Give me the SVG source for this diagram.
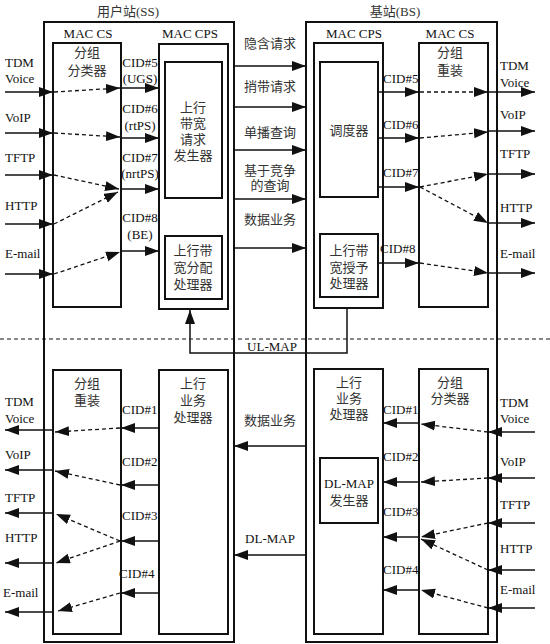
<svg xmlns="http://www.w3.org/2000/svg" width="550" height="644" viewBox="0 0 550 644">
<style>
text{font-family:"Liberation Serif","Noto Sans CJK SC",serif;font-size:13px;fill:#111}
.c{text-anchor:middle}
.cj{fill:#333}
.box{fill:none;stroke:#111;stroke-width:2}
.ln{fill:none;stroke:#111;stroke-width:1.5}
.ar{fill:none;stroke:#111;stroke-width:1.5;marker-end:url(#ah)}
.da{fill:none;stroke:#111;stroke-width:1.3;stroke-dasharray:4,3;marker-end:url(#ah)}
</style>
<defs>
<marker id="ah" markerUnits="userSpaceOnUse" markerWidth="15" markerHeight="11" refX="14" refY="5" orient="auto">
<path d="M0,0 L14,5 L0,10 z" fill="#111"/>
</marker>
</defs>
<rect width="550" height="644" fill="#fff"/>

<g id="ss">
<text class="c cj" x="128" y="16">用户站(SS)</text>
<rect class="box" x="44" y="22" width="190" height="620"/>
<text class="c" x="88" y="38">MAC CS</text>
<text class="c" x="190" y="38">MAC CPS</text>
</g>
<g id="bs">
<text class="c cj" x="395" y="16">基站(BS)</text>
<rect class="box" x="306" y="22" width="191" height="620"/>
<text class="c" x="354" y="38">MAC CPS</text>
<text class="c" x="450" y="38">MAC CS</text>
</g>

<g id="ss-classifier">
<rect class="box" x="53" y="43" width="68" height="264"/>
<text class="c cj" x="87" y="57">分组</text>
<text class="c cj" x="87" y="75">分类器</text>
</g>
<g id="ss-maccps">
<rect class="box" x="159" y="44" width="69" height="265"/>
</g>
<g id="ss-bwreq">
<rect class="box" x="165" y="62" width="57" height="136"/>
<text class="c cj" x="193" y="112">上行</text>
<text class="c cj" x="193" y="128">带宽</text>
<text class="c cj" x="193" y="144">请求</text>
<text class="c cj" x="193" y="160">发生器</text>
</g>
<g id="ss-bwalloc">
<rect class="box" x="165" y="236" width="57" height="63"/>
<text class="c cj" x="193" y="255">上行带</text>
<text class="c cj" x="193" y="272">宽分配</text>
<text class="c cj" x="193" y="289">处理器</text>
</g>

<g id="bs-maccps">
<rect class="box" x="314" y="43" width="69" height="265"/>
</g>
<g id="bs-scheduler">
<rect class="box" x="320" y="62" width="58" height="135"/>
<text class="c cj" x="349" y="135">调度器</text>
</g>
<g id="bs-bwgrant">
<rect class="box" x="320" y="234" width="58" height="63"/>
<text class="c cj" x="349" y="255">上行带</text>
<text class="c cj" x="349" y="272">宽授予</text>
<text class="c cj" x="349" y="288">处理器</text>
</g>
<g id="bs-reassembly">
<rect class="box" x="419" y="43" width="69" height="264"/>
<text class="c cj" x="450" y="57">分组</text>
<text class="c cj" x="450" y="75">重装</text>
</g>

<g id="ss-reassembly">
<rect class="box" x="53" y="370" width="68" height="264"/>
<text class="c cj" x="87" y="388">分组</text>
<text class="c cj" x="87" y="405">重装</text>
</g>
<g id="ss-ulproc">
<rect class="box" x="159" y="370" width="69" height="264"/>
<text class="c cj" x="193" y="388">上行</text>
<text class="c cj" x="193" y="405">业务</text>
<text class="c cj" x="193" y="422">处理器</text>
</g>
<g id="bs-ulproc">
<rect class="box" x="314" y="369" width="69" height="265"/>
<text class="c cj" x="349" y="387">上行</text>
<text class="c cj" x="349" y="403">业务</text>
<text class="c cj" x="349" y="419">处理器</text>
</g>
<g id="bs-dlmap">
<rect class="box" x="320" y="458" width="58" height="65"/>
<text class="c" x="349" y="488">DL-MAP</text>
<text class="c cj" x="349" y="505">发生器</text>
</g>
<g id="bs-classifier">
<rect class="box" x="419" y="369" width="69" height="265"/>
<text class="c cj" x="450" y="387">分组</text>
<text class="c cj" x="450" y="403">分类器</text>
</g>

<g id="labels">
<text x="5" y="67">TDM</text><text x="5" y="83">Voice</text>
<text x="5" y="122">VoIP</text>
<text x="5" y="162">TFTP</text>
<text x="5" y="210">HTTP</text>
<text x="5" y="258">E-mail</text>
<text class="c" x="140" y="67">CID#5</text><text class="c" x="140" y="83">(UGS)</text>
<text class="c" x="140" y="113">CID#6</text><text class="c" x="140" y="130">(rtPS)</text>
<text class="c" x="140" y="162">CID#7</text><text class="c" x="140" y="178">(nrtPS)</text>
<text class="c" x="140" y="222">CID#8</text><text class="c" x="140" y="239">(BE)</text>
<text class="c cj" x="270" y="48">隐含请求</text>
<text class="c cj" x="270" y="91">捎带请求</text>
<text class="c cj" x="270" y="137">单播查询</text>
<text class="c cj" x="270" y="175">基于竞争</text>
<text class="c cj" x="270" y="190">的查询</text>
<text class="c cj" x="270" y="224">数据业务</text>
<text class="c" x="272" y="351">UL-MAP</text>
<text x="383" y="83">CID#5</text>
<text x="383" y="129">CID#6</text>
<text x="383" y="177">CID#7</text>
<text x="380" y="253">CID#8</text>
<text x="500" y="70">TDM</text><text x="500" y="87">Voice</text>
<text x="500" y="119">VoIP</text>
<text x="500" y="158">TFTP</text>
<text x="500" y="212">HTTP</text>
<text x="500" y="258">E-mail</text>
<text x="5" y="406">TDM</text><text x="5" y="423">Voice</text>
<text x="5" y="459">VoIP</text>
<text x="5" y="502">TFTP</text>
<text x="5" y="542">HTTP</text>
<text x="3" y="597">E-mail</text>
<text x="122" y="414">CID#1</text>
<text x="122" y="466">CID#2</text>
<text x="122" y="520">CID#3</text>
<text x="119" y="578">CID#4</text>
<text class="c cj" x="270" y="425">数据业务</text>
<text class="c" x="270" y="543">DL-MAP</text>
<text x="383" y="414">CID#1</text>
<text x="383" y="461">CID#2</text>
<text x="383" y="516">CID#3</text>
<text x="383" y="574">CID#4</text>
<text x="500" y="407">TDM</text><text x="500" y="423">Voice</text>
<text x="500" y="466">VoIP</text>
<text x="500" y="509">TFTP</text>
<text x="500" y="553">HTTP</text>
<text x="500" y="594">E-mail</text>
</g>

<g id="connectors">
<line x1="0" y1="339" x2="550" y2="339" stroke="#111" stroke-width="1" stroke-dasharray="4,3"/>
<line class="ar" x1="5" y1="92" x2="53" y2="92"/>
<line class="ar" x1="5" y1="133" x2="53" y2="133"/>
<line class="ar" x1="5" y1="175" x2="53" y2="175"/>
<line class="ar" x1="5" y1="224" x2="53" y2="224"/>
<line class="ar" x1="5" y1="274" x2="53" y2="274"/>
<line class="da" x1="54" y1="92" x2="120" y2="88"/>
<line class="da" x1="54" y1="133" x2="120" y2="137"/>
<line class="da" x1="54" y1="175" x2="119" y2="189"/>
<line class="da" x1="54" y1="224" x2="118" y2="192"/>
<line class="da" x1="54" y1="274" x2="120" y2="252"/>
<line class="ar" x1="121" y1="88" x2="159" y2="88"/>
<line class="ar" x1="121" y1="138" x2="159" y2="138"/>
<line class="ar" x1="121" y1="189" x2="159" y2="189"/>
<line class="ar" x1="121" y1="251" x2="159" y2="251"/>
<line class="ar" x1="234" y1="66" x2="306" y2="66"/>
<line class="ar" x1="234" y1="107" x2="306" y2="107"/>
<line class="ar" x1="234" y1="150" x2="306" y2="150"/>
<line class="ar" x1="234" y1="199" x2="306" y2="199"/>
<line class="ar" x1="234" y1="248" x2="306" y2="248"/>
<line class="ar" x1="378" y1="92" x2="419" y2="92"/>
<line class="ar" x1="378" y1="138" x2="419" y2="138"/>
<line class="ar" x1="378" y1="187" x2="419" y2="187"/>
<line class="ar" x1="378" y1="263" x2="419" y2="263"/>
<line class="da" x1="420" y1="92" x2="488" y2="92"/>
<line class="da" x1="420" y1="138" x2="488" y2="132"/>
<line class="da" x1="420" y1="187" x2="488" y2="174"/>
<line class="da" x1="420" y1="187" x2="488" y2="223"/>
<line class="da" x1="420" y1="263" x2="488" y2="273"/>
<line class="ar" x1="488" y1="92" x2="535" y2="92"/>
<line class="ar" x1="488" y1="131" x2="535" y2="131"/>
<line class="ar" x1="488" y1="174" x2="535" y2="174"/>
<line class="ar" x1="488" y1="223" x2="535" y2="223"/>
<line class="ar" x1="488" y1="273" x2="535" y2="273"/>
<path class="ar" d="M347,308 V353 H190 V310"/>
<line class="ar" x1="159" y1="428" x2="121" y2="428"/>
<line class="ar" x1="159" y1="485" x2="121" y2="485"/>
<line class="ar" x1="159" y1="541" x2="121" y2="541"/>
<line class="ar" x1="159" y1="593" x2="121" y2="593"/>
<line class="da" x1="120" y1="428" x2="55" y2="432"/>
<line class="da" x1="120" y1="485" x2="55" y2="471"/>
<line class="da" x1="120" y1="541" x2="56" y2="514"/>
<line class="da" x1="120" y1="541" x2="56" y2="563"/>
<line class="da" x1="120" y1="593" x2="58" y2="611"/>
<line class="ar" x1="53" y1="430" x2="5" y2="430"/>
<line class="ar" x1="53" y1="470" x2="5" y2="470"/>
<line class="ar" x1="53" y1="513" x2="5" y2="513"/>
<line class="ar" x1="53" y1="563" x2="5" y2="563"/>
<line class="ar" x1="53" y1="612" x2="5" y2="612"/>
<line class="ar" x1="306" y1="446" x2="234" y2="446"/>
<line class="ar" x1="306" y1="555" x2="234" y2="555"/>
<line class="ar" x1="535" y1="432" x2="488" y2="432"/>
<line class="ar" x1="535" y1="478" x2="488" y2="478"/>
<line class="ar" x1="535" y1="523" x2="488" y2="523"/>
<line class="ar" x1="535" y1="570" x2="488" y2="570"/>
<line class="ar" x1="535" y1="608" x2="488" y2="608"/>
<line class="da" x1="488" y1="432" x2="421" y2="424"/>
<line class="da" x1="488" y1="478" x2="421" y2="482"/>
<line class="da" x1="488" y1="523" x2="421" y2="537"/>
<line class="da" x1="488" y1="570" x2="421" y2="539"/>
<line class="da" x1="488" y1="608" x2="421" y2="590"/>
<line class="ar" x1="419" y1="423" x2="383" y2="423"/>
<line class="ar" x1="419" y1="482" x2="383" y2="482"/>
<line class="ar" x1="419" y1="537" x2="383" y2="537"/>
<line class="ar" x1="419" y1="590" x2="383" y2="590"/>
</g>
</svg>
